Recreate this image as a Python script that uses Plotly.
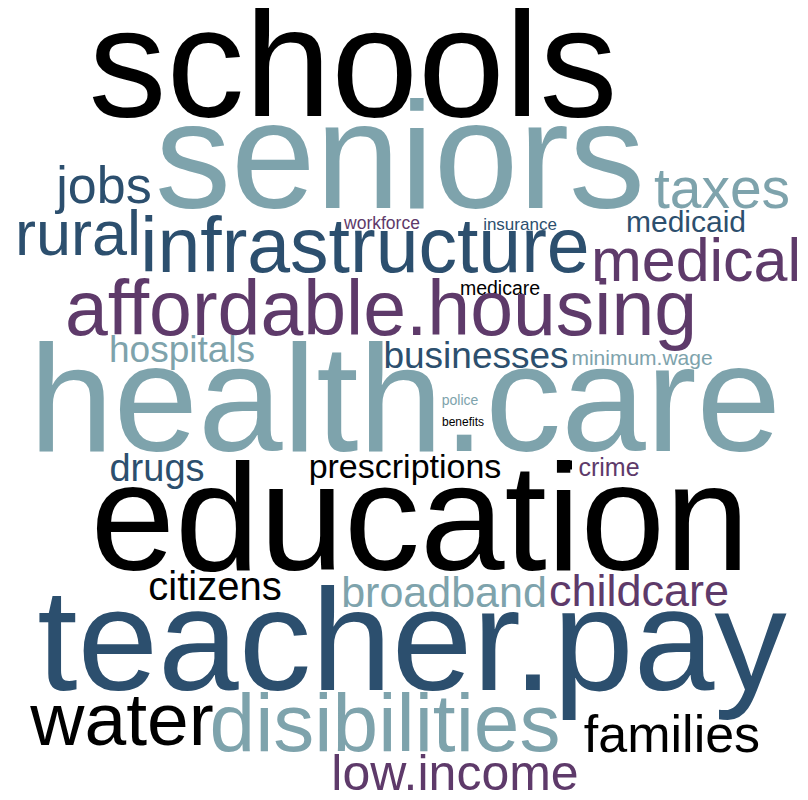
import plotly.graph_objects as go

# ---- data: words and their weights (rendered font size, px) ----
words = ["schools", "seniors", "jobs", "taxes", "workforce", "insurance", "medicaid",
         "rural", "infrastructure", "medical", "medicare", "affordable.housing",
         "hospitals", "businesses", "minimum.wage", "health.care", "police", "benefits",
         "drugs", "prescriptions", "crime", "education", "citizens", "broadband",
         "childcare", "teacher.pay", "water", "disibilities", "families", "low.income"]
weights = [156, 152, 52, 57, 17.5, 17, 30,
           63, 77, 61, 19.5, 77,
           37, 37, 21, 152, 14, 12,
           38, 34, 25, 152, 40, 43,
           45, 145, 75, 82, 52, 50]
color_group = ["black", "teal", "navy", "teal", "purple", "navy", "navy",
               "navy", "navy", "purple", "black", "purple",
               "teal", "navy", "teal", "teal", "teal", "black",
               "navy", "black", "purple", "black", "black", "teal",
               "purple", "navy", "black", "teal", "black", "purple"]

# ---- layout (pixel positions of each word: horizontal centre, baseline) ----
layout_x = [353, 400, 104, 722, 382, 520, 686,
            78, 365, 696, 500, 381,
            182, 476, 642, 405, 460, 463,
            157, 405, 609, 420, 215, 444,
            639, 412, 122, 385, 672, 455]
layout_base = [116, 208, 203, 208, 229, 230, 232,
               255, 272, 281, 295, 335,
               362, 368, 365, 451, 405, 426,
               481, 478, 476, 570, 600, 607,
               606, 690, 745, 751, 752, 790]

palette = {"black": "#000000", "navy": "#2c4f6e", "teal": "#7ea3ac", "purple": "#5e3a6a"}

W, H = 808, 800
PAGE_MARGIN = 8  # default body margin of the html page
ys = [b - 0.25 * s for b, s in zip(layout_base, weights)]

fig = go.Figure()
fig.add_trace(go.Scatter(
    x=layout_x, y=ys, mode="text", text=words,
    textposition="middle center",
    textfont=dict(family="Liberation Sans, Arial, sans-serif",
                  size=weights, color=[palette[c] for c in color_group]),
    hoverinfo="text", showlegend=False,
))
# small stray square glyph next to "crime"
fig.add_trace(go.Scatter(x=[567.5], y=[465], mode="markers",
                         marker=dict(symbol="square", size=9, color="#000000"),
                         hoverinfo="skip", showlegend=False))

fig.update_layout(
    width=W, height=H, margin=dict(l=0, r=0, t=0, b=0),
    paper_bgcolor="white", plot_bgcolor="white",
    xaxis=dict(range=[PAGE_MARGIN, W + PAGE_MARGIN], visible=False, fixedrange=True),
    yaxis=dict(range=[H + PAGE_MARGIN, PAGE_MARGIN], visible=False, fixedrange=True),
)
fig.write_html("out.html")
